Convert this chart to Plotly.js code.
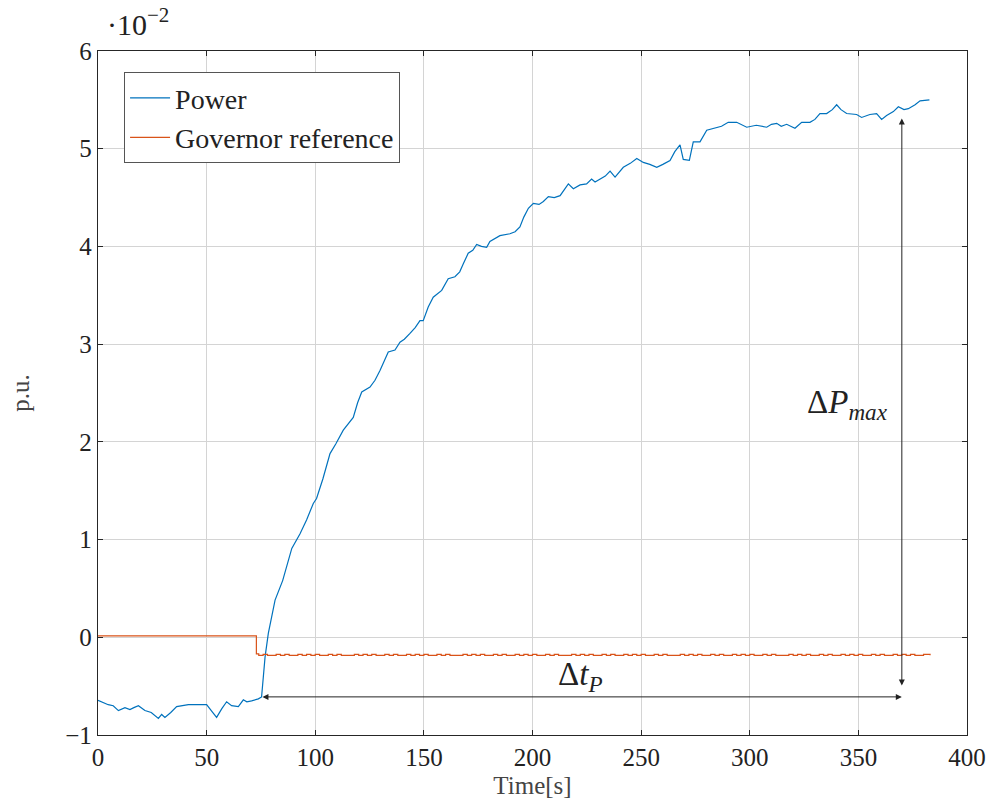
<!DOCTYPE html>
<html>
<head>
<meta charset="utf-8">
<script src="https://cdn.plot.ly/plotly-3.0.1.min.js"></script>
<style>html,body{margin:0;padding:0;background:#fff;}#chart{width:992px;height:811px;}</style>
</head>
<body>
<div id="chart"></div>
<script>
// Power (units of 1e-2 p.u.)
const powerT = [0,2.5,4.7,7,9.4,12.4,14.7,16.5,18.6,21.6,24.5,27.8,29.3,30.8,33.5,36.2,39,41.6,46,50,52.5,54.6,57,59.2,61.5,64.6,66.9,68.5,70.7,73.8,75.3,76.9,78.4,81.5,85,89.2,93,96,99.1,100.6,103.5,106.8,109.5,112.9,117.5,119.5,121.4,125.2,127.5,129.8,133.6,136.7,139,141,143.6,146,148.2,149.7,152,154.3,158.2,161.2,164.3,166.5,168.1,170.4,172.5,174.3,176.5,178.9,180.4,185,189.6,192,194.2,196,198.1,200.4,203,205,207.3,210,212.7,216.5,218.8,221.9,224.9,227.2,228.8,231,233.5,235.7,238,241.8,245,248,251,254,257.2,260,263.3,265.5,267.9,269.4,272.2,274,277.1,280.2,284,287,290.1,294,298.6,303,307.8,310,312.4,314.5,317,320.8,323.9,327.7,330,332.3,335.4,338,340,342,344.6,349.2,351.5,355.3,358.4,360.7,363,366.1,368.4,371,373,376.1,378.4,382.7];
const powerV = [-0.645,-0.67,-0.69,-0.7,-0.75,-0.72,-0.74,-0.72,-0.7,-0.75,-0.77,-0.83,-0.79,-0.82,-0.77,-0.71,-0.7,-0.69,-0.69,-0.69,-0.76,-0.82,-0.73,-0.66,-0.7,-0.71,-0.64,-0.66,-0.65,-0.63,-0.61,-0.2,0.04,0.38,0.58,0.91,1.06,1.2,1.37,1.42,1.62,1.88,1.98,2.12,2.25,2.4,2.51,2.56,2.63,2.73,2.92,2.94,3.02,3.05,3.11,3.17,3.24,3.24,3.38,3.48,3.55,3.67,3.69,3.74,3.82,3.93,3.96,4.02,4.0,3.99,4.05,4.11,4.13,4.15,4.2,4.3,4.39,4.44,4.43,4.46,4.51,4.5,4.52,4.64,4.59,4.63,4.64,4.69,4.66,4.69,4.72,4.77,4.71,4.81,4.85,4.9,4.86,4.84,4.81,4.84,4.88,4.97,5.04,4.89,4.88,5.07,5.07,5.19,5.21,5.23,5.27,5.27,5.22,5.24,5.22,5.25,5.26,5.23,5.25,5.21,5.27,5.27,5.3,5.36,5.36,5.4,5.45,5.4,5.36,5.35,5.32,5.35,5.36,5.3,5.34,5.38,5.43,5.4,5.41,5.45,5.49,5.5];

// Governor reference (units of 1e-2 p.u.)
const govT = [0,72.6,72.9,74,76,78,80,82,84,86,88,90,92,94,96,98,100,102,104,106,108,110,112,114,116,118,120,122,124,126,128,130,132,134,136,138,140,142,144,146,148,150,152,154,156,158,160,162,164,166,168,170,172,174,176,178,180,182,184,186,188,190,192,194,196,198,200,202,204,206,208,210,212,214,216,218,220,222,224,226,228,230,232,234,236,238,240,242,244,246,248,250,252,254,256,258,260,262,264,266,268,270,272,274,276,278,280,282,284,286,288,290,292,294,296,298,300,302,304,306,308,310,312,314,316,318,320,322,324,326,328,330,332,334,336,338,340,342,344,346,348,350,352,354,356,358,360,362,364,366,368,370,372,374,376,378,380,383];
const govV = [0.015,0.015,-0.17,-0.185,-0.175,-0.185,-0.185,-0.175,-0.185,-0.175,-0.185,-0.185,-0.175,-0.185,-0.175,-0.185,-0.175,-0.185,-0.185,-0.175,-0.185,-0.175,-0.185,-0.185,-0.185,-0.175,-0.185,-0.175,-0.185,-0.175,-0.185,-0.185,-0.175,-0.185,-0.175,-0.185,-0.185,-0.175,-0.185,-0.175,-0.185,-0.175,-0.185,-0.185,-0.175,-0.185,-0.175,-0.185,-0.185,-0.185,-0.175,-0.185,-0.175,-0.185,-0.175,-0.185,-0.185,-0.175,-0.185,-0.175,-0.185,-0.185,-0.175,-0.185,-0.175,-0.185,-0.175,-0.185,-0.185,-0.175,-0.185,-0.175,-0.185,-0.185,-0.185,-0.175,-0.185,-0.175,-0.185,-0.175,-0.185,-0.185,-0.175,-0.185,-0.175,-0.185,-0.185,-0.175,-0.185,-0.175,-0.185,-0.175,-0.185,-0.185,-0.175,-0.185,-0.175,-0.185,-0.185,-0.185,-0.175,-0.185,-0.175,-0.185,-0.175,-0.185,-0.185,-0.175,-0.185,-0.175,-0.185,-0.185,-0.175,-0.185,-0.175,-0.185,-0.175,-0.185,-0.185,-0.175,-0.185,-0.175,-0.185,-0.185,-0.185,-0.175,-0.185,-0.175,-0.185,-0.175,-0.185,-0.185,-0.175,-0.185,-0.175,-0.185,-0.185,-0.175,-0.185,-0.175,-0.185,-0.175,-0.185,-0.185,-0.175,-0.185,-0.175,-0.185,-0.185,-0.175,-0.185,-0.175,-0.185,-0.175,-0.185,-0.185,-0.175,-0.185,-0.175,-0.185];

// annotation anchors
const dtStart = 75, dtEnd = 370, dtLevel = -0.61;
const dpBottom = -0.51, dpTop = 5.31;

const FONT = "'Liberation Serif', 'DejaVu Serif', serif";

const traces = [
  {x: powerT, y: powerV, type: 'scatter', mode: 'lines', name: 'Power',
   line: {color: '#0072BD', width: 1.2}},
  {x: govT, y: govV, type: 'scatter', mode: 'lines', name: 'Governor reference',
   line: {color: '#D95319', width: 1.2, shape: 'hv'}}
];

const axisCommon = {
  showline: true, linecolor: '#262626', linewidth: 1.2, mirror: 'allticks',
  ticks: 'inside', ticklen: 5, tickcolor: '#262626',
  showgrid: true, gridcolor: '#d4d4d4', gridwidth: 1, zeroline: false,
  tickfont: {family: FONT, size: 25, color: '#222'}
};

const layout = {
  width: 992, height: 811,
  margin: {l: 98, r: 25, t: 51, b: 76},
  paper_bgcolor: '#fff', plot_bgcolor: '#fff',
  font: {family: FONT, color: '#222'},
  xaxis: Object.assign({}, axisCommon, {
    range: [0, 400], tickvals: [0,50,100,150,200,250,300,350,400],
    title: {text: 'Time[s]', font: {family: FONT, size: 25, color: '#444'}, standoff: 6}
  }),
  yaxis: Object.assign({}, axisCommon, {
    range: [-1, 6], tickvals: [-1,0,1,2,3,4,5,6],
    title: {text: 'p.u.', font: {family: FONT, size: 25, color: '#444'}, standoff: 28}
  }),
  legend: {
    x: 0.03, y: 0.969, xanchor: 'left', yanchor: 'top',
    bgcolor: '#fff', bordercolor: '#555', borderwidth: 1,
    font: {family: FONT, size: 28, color: '#222'},
    tracegroupgap: 0, itemwidth: 40
  },
  showlegend: true,
  annotations: [
    {x: dtEnd, y: dtLevel, ax: dtStart, ay: dtLevel, xref: 'x', yref: 'y', axref: 'x', ayref: 'y',
     text: '', showarrow: true, arrowhead: 2, startarrowhead: 2, arrowside: 'end+start',
     arrowsize: 1.2, startarrowsize: 1.2, arrowwidth: 1, arrowcolor: '#222'},
    {x: dtEnd, y: dpTop, ax: dtEnd, ay: dpBottom, xref: 'x', yref: 'y', axref: 'x', ayref: 'y',
     text: '', showarrow: true, arrowhead: 2, startarrowhead: 2, arrowside: 'end+start',
     arrowsize: 1.2, startarrowsize: 1.2, arrowwidth: 1, arrowcolor: '#222'},
    {x: 222, y: -0.4, xref: 'x', yref: 'y', showarrow: false,
     text: 'Δ<i>t</i><sub><i>P</i></sub>', font: {family: FONT, size: 33, color: '#222'}},
    {x: 345, y: 2.38, xref: 'x', yref: 'y', showarrow: false,
     text: 'Δ<i>P</i><sub><i>max</i></sub>', font: {family: FONT, size: 33, color: '#222'}},
    {x: 0.008, y: 1.0, xref: 'paper', yref: 'paper', xanchor: 'left', yanchor: 'bottom', yshift: 8,
     showarrow: false, text: '·10<sup>−2</sup>', font: {family: FONT, size: 30, color: '#222'}}
  ]
};

Plotly.newPlot('chart', traces, layout, {displayModeBar: false, staticPlot: true});
</script>
</body>
</html>
